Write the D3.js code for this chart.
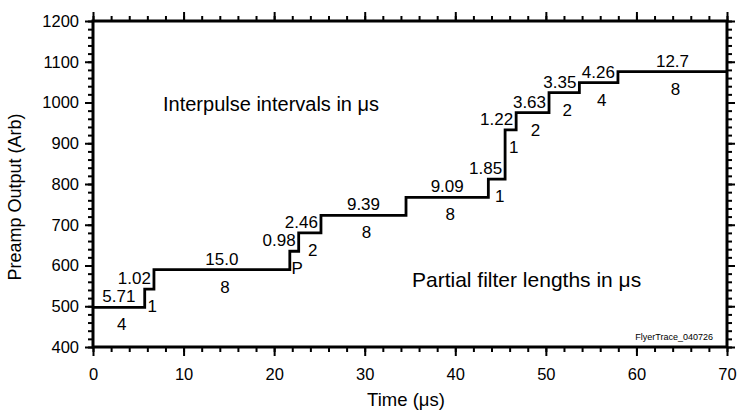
<!DOCTYPE html>
<html>
<head>
<meta charset="utf-8">
<script src="https://cdn.jsdelivr.net/npm/d3@7/dist/d3.min.js"></script>
<style>
  body { margin: 0; background: #fff; }
  text { font-family: "Liberation Sans", Arial, sans-serif; fill: #000; }
</style>
</head>
<body>
<div id="chart"></div>
<script>
// interpulse intervals (us) and the preamp level reached during each one
var intervals = [5.71, 1.02, 15.0, 0.98, 2.46, 9.39, 9.09, 1.85, 1.22, 3.63, 3.35, 4.26, 12.7];
var levels = [497, 542, 590, 635, 680, 723, 767, 812, 933, 975, 1024, 1049, 1076];
var intervalLabels = ["5.71", "1.02", "15.0", "0.98", "2.46", "9.39", "9.09", "1.85", "1.22", "3.63", "3.35", "4.26", "12.7"];
var filterLabels = ["4", "1", "8", "P", "2", "8", "8", "1", "1", "2", "2", "4", "8"];
var xTicks = [0, 10, 20, 30, 40, 50, 60, 70];
var yTicks = [400, 500, 600, 700, 800, 900, 1000, 1100, 1200];

var width = 738, height = 412;
var margin = {top: 21, right: 11, bottom: 65, left: 93};
var w = width - margin.left - margin.right,
    h = height - margin.top - margin.bottom;

var svg = d3.select("#chart").append("svg")
    .attr("width", width)
    .attr("height", height);

var x = d3.scaleLinear().domain([0, 70]).range([0, w]);
var y = d3.scaleLinear().domain([400, 1200]).range([h, 0]);

var g = svg.append("g")
    .attr("transform", "translate(" + margin.left + "," + margin.top + ")");

// segments
var t = 0;
var segs = intervals.map(function(d, i) {
    var s = {start: t, end: Math.min(t + d, 70), level: levels[i], top: intervalLabels[i], bottom: filterLabels[i]};
    t += d;
    return s;
});

var pts = [];
segs.forEach(function(s) {
    pts.push([s.start, s.level]);
    pts.push([s.end, s.level]);
});

var line = d3.line().x(function(d) { return x(d[0]); }).y(function(d) { return y(d[1]); });

g.append("path")
    .datum(pts)
    .attr("fill", "none")
    .attr("stroke", "#000")
    .attr("stroke-width", 2.8)
    .attr("d", line);

// axes: major + minor ticks, all outward
var minorX = d3.range(0, 70.1, 2), minorY = d3.range(400, 1200.1, 20);
function styleAxis(sel) {
    sel.select(".domain").remove();
    sel.selectAll("line").attr("stroke", "#000").attr("stroke-width", 2);
    sel.selectAll("text").attr("font-size", "16.5px");
}

g.append("g").attr("transform", "translate(0," + h + ")")
    .call(d3.axisBottom(x).tickValues(minorX).tickSize(5).tickFormat(""))
    .call(styleAxis);
g.append("g").attr("transform", "translate(0," + h + ")")
    .call(d3.axisBottom(x).tickValues(xTicks).tickSize(9).tickPadding(12).tickFormat(d3.format("d")))
    .call(styleAxis);
g.append("g")
    .call(d3.axisTop(x).tickValues(minorX).tickSize(5).tickFormat(""))
    .call(styleAxis);
g.append("g")
    .call(d3.axisTop(x).tickValues(xTicks).tickSize(9).tickFormat(""))
    .call(styleAxis);

g.append("g")
    .call(d3.axisLeft(y).tickValues(minorY).tickSize(5).tickFormat(""))
    .call(styleAxis);
g.append("g")
    .call(d3.axisLeft(y).tickValues(yTicks).tickSize(8).tickPadding(6).tickFormat(d3.format("d")))
    .call(styleAxis);
g.append("g").attr("transform", "translate(" + w + ",0)")
    .call(d3.axisRight(y).tickValues(minorY).tickSize(5).tickFormat(""))
    .call(styleAxis);
g.append("g").attr("transform", "translate(" + w + ",0)")
    .call(d3.axisRight(y).tickValues(yTicks).tickSize(8).tickFormat(""))
    .call(styleAxis);

// frame
g.append("rect")
    .attr("width", w)
    .attr("height", h)
    .attr("fill", "none")
    .attr("stroke", "#000")
    .attr("stroke-width", 3);

// step labels
segs.forEach(function(s) {
    var x0 = x(s.start), x1 = x(s.end), c = (x0 + x1) / 2;
    var top = g.append("text")
        .attr("text-anchor", "middle")
        .attr("font-size", "17px")
        .attr("y", y(s.level) - 5)
        .text(s.top);
    var tw = top.node().getComputedTextLength();
    top.attr("x", Math.min(c, x1 - tw / 2 - 3));

    g.append("text")
        .attr("text-anchor", "middle")
        .attr("font-size", "17px")
        .attr("x", Math.min(c + 3, x1 + 1))
        .attr("y", y(s.level) + 23)
        .text(s.bottom);
});

g.append("text")
    .attr("x", 70)
    .attr("y", 90)
    .attr("font-size", "20px")
    .text("Interpulse intervals in \u03bcs");

g.append("text")
    .attr("x", 319)
    .attr("y", 266)
    .attr("font-size", "21px")
    .text("Partial filter lengths in \u03bcs");

g.append("text")
    .attr("x", w - 14)
    .attr("y", 319)
    .attr("text-anchor", "end")
    .attr("font-size", "9px")
    .text("FlyerTrace_040726");

// axis titles
svg.append("text")
    .attr("x", 406)
    .attr("y", 406)
    .attr("text-anchor", "middle")
    .attr("font-size", "18.5px")
    .text("Time (\u03bcs)");

svg.append("text")
    .attr("transform", "translate(21,197) rotate(-90)")
    .attr("text-anchor", "middle")
    .attr("font-size", "18px")
    .text("Preamp Output (Arb)");
</script>
</body>
</html>
